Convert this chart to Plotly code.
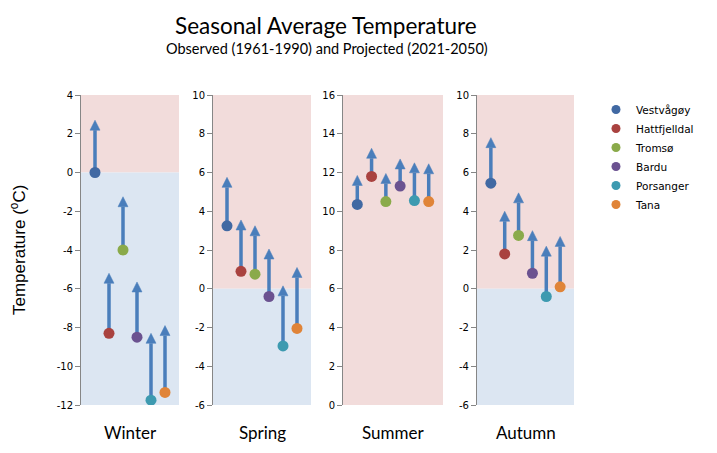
import plotly.graph_objects as go

stations = ["Vestvågøy", "Hattfjelldal", "Tromsø", "Bardu", "Porsanger", "Tana"]
station_colors = ["#4169A3", "#A9423F", "#8AAA4A", "#6B5290", "#3D9AB0", "#E08438"]
seasons = ["Winter", "Spring", "Summer", "Autumn"]

winter_obs = [0.0, -8.3, -4.0, -8.5, -11.75, -11.35]
winter_proj = [2.7, -5.2, -1.25, -5.65, -8.3, -7.9]
spring_obs = [3.25, 0.9, 0.75, -0.4, -2.95, -2.05]
spring_proj = [5.75, 3.55, 3.25, 2.05, 0.15, 1.1]
summer_obs = [10.35, 11.8, 10.5, 11.3, 10.55, 10.5]
summer_proj = [11.85, 13.25, 11.95, 12.7, 12.5, 12.45]
autumn_obs = [5.45, 1.8, 2.75, 0.8, -0.4, 0.1]
autumn_proj = [7.8, 4.0, 4.95, 3.0, 2.2, 2.7]

y_ranges = [[-12, 4], [-6, 10], [0, 16], [-6, 10]]
obs_all = [winter_obs, spring_obs, summer_obs, autumn_obs]
proj_all = [winter_proj, spring_proj, summer_proj, autumn_proj]

# page has an 8px body margin; lay out in window pixels and convert
OFF = 8
W, H = 717 - OFF, 453 - OFF
def px(x):
    return (x - OFF) / W
def py(y):
    return 1 - (y - OFF) / H

panel_px = [(81, 179), (213, 311), (343, 443), (477, 574)]
y_dom = [py(405), py(95)]

ARROW = "#4A7EBB"
PINK = "#F2DCDB"
BLUE = "#DCE6F2"
AXC = "#868686"
TICKFONT = dict(family="DejaVu Sans", size=10, color="#000000")

fig = go.Figure()
shapes = []
annotations = []
xs = list(range(1, len(stations) + 1))

for k, season in enumerate(seasons):
    xa = "x" if k == 0 else f"x{k+1}"
    ya = "y" if k == 0 else f"y{k+1}"
    obs, proj = obs_all[k], proj_all[k]
    ax_x, ax_y, sym, sz = [], [], [], []
    for i in range(len(stations)):
        ax_x += [xs[i], xs[i], None]
        ax_y += [obs[i], proj[i], None]
        sym += ["circle", "arrow-up", "circle"]
        sz += [0, 10, 0]
    fig.add_trace(go.Scatter(
        x=ax_x, y=ax_y, xaxis=xa, yaxis=ya, mode="lines+markers",
        line=dict(color=ARROW, width=3.5),
        marker=dict(symbol=sym, size=sz, color=ARROW, opacity=1,
                    line=dict(width=0.5, color=ARROW)),
        showlegend=False, hoverinfo="skip"))
    for i, st in enumerate(stations):
        fig.add_trace(go.Scatter(
            x=[xs[i]], y=[obs[i]], xaxis=xa, yaxis=ya, mode="markers",
            marker=dict(color=station_colors[i], size=11, opacity=1, line=dict(width=0)),
            name=st, showlegend=False))
    lo, hi = y_ranges[k]
    if hi > 0:
        shapes.append(dict(type="rect", xref=f"{xa} domain", yref=ya, x0=0, x1=1,
                           y0=max(lo, 0), y1=hi, fillcolor=PINK, line=dict(width=0), layer="below"))
    if lo < 0:
        shapes.append(dict(type="rect", xref=f"{xa} domain", yref=ya, x0=0, x1=1,
                           y0=lo, y1=min(hi, 0), fillcolor=BLUE, line=dict(width=0), layer="below"))
    annotations.append(dict(text=season, xref=f"{xa} domain", yref="paper", x=0.5,
                            y=py(432), showarrow=False,
                            font=dict(family="Lato", size=17, color="#000000"),
                            xanchor="center", yanchor="middle"))
    x0, x1 = panel_px[k]
    tvals = list(range(lo, hi + 1, 2))
    fig.update_layout(**{
        ("xaxis" if k == 0 else f"xaxis{k+1}"): dict(
            domain=[px(x0), px(x1)], range=[0, 7], visible=False, anchor=ya),
        ("yaxis" if k == 0 else f"yaxis{k+1}"): dict(
            domain=y_dom, range=[lo, hi], tickmode="array", tickvals=tvals,
            ticktext=[str(v) for v in tvals], anchor=xa,
            showline=True, linecolor=AXC, linewidth=1, ticks="outside",
            ticklen=5, tickcolor=AXC, showgrid=False, zeroline=False,
            tickfont=TICKFONT, automargin=False),
    })

# legend entries (legend-only traces so the legend dots can be smaller)
for i, st in enumerate(stations):
    fig.add_trace(go.Scatter(
        x=[None], y=[None], mode="markers", name=st,
        marker=dict(color=station_colors[i], size=9, line=dict(width=0)),
        showlegend=True))

annotations += [
    dict(text="Seasonal Average Temperature", xref="paper", yref="paper",
         x=px(326), y=py(25), showarrow=False, xanchor="center", yanchor="middle",
         font=dict(family="Lato", size=22.5, color="#000000")),
    dict(text="Observed (1961-1990) and Projected (2021-2050)", xref="paper", yref="paper",
         x=px(327), y=py(49), showarrow=False, xanchor="center", yanchor="middle",
         font=dict(family="Lato", size=14.5, color="#000000")),
    dict(text="Temperature (<sup>o</sup>C)", xref="paper", yref="paper",
         x=px(18), y=py(250), showarrow=False, textangle=-90,
         xanchor="center", yanchor="middle",
         font=dict(family="Liberation Sans", size=17, color="#000000")),
]

fig.update_layout(
    width=W, height=H,
    margin=dict(l=0, r=0, t=0, b=0),
    paper_bgcolor="white", plot_bgcolor="rgba(0,0,0,0)",
    shapes=shapes, annotations=annotations,
    legend=dict(x=px(596), y=py(95), xanchor="left", yanchor="top",
                font=dict(family="DejaVu Sans", size=10.5, color="#000000"),
                tracegroupgap=0, bgcolor="rgba(0,0,0,0)"),
)

fig.write_html("out.html")
